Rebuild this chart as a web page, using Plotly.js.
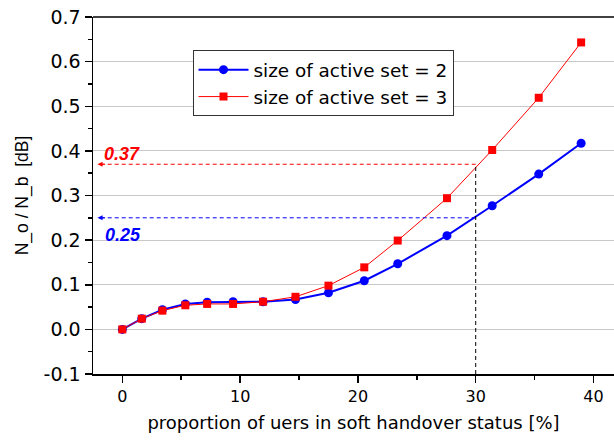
<!DOCTYPE html>
<html>
<head>
<meta charset="utf-8">
<script src="https://cdn.plot.ly/plotly-3.0.1.min.js"></script>
<style>html,body{margin:0;padding:0;background:#fff;}#chart{width:614px;height:441px;}</style>
</head>
<body>
<div id="chart"></div>
<script>
// Proportion of users in soft handover status [%]
const handoverPct = [0, 1.65, 3.4, 5.35, 7.2, 9.4, 11.95, 14.7, 17.5, 20.54, 23.38, 27.56, 31.4, 35.35, 38.95];
// N_o / N_b [dB], size of active set = 2
const activeSet2 = [0, 0.024, 0.044, 0.057, 0.061, 0.062, 0.062, 0.067, 0.082, 0.109, 0.147, 0.21, 0.277, 0.348, 0.417];
// N_o / N_b [dB], size of active set = 3
const activeSet3 = [0, 0.024, 0.042, 0.054, 0.057, 0.057, 0.062, 0.073, 0.098, 0.139, 0.199, 0.294, 0.402, 0.519, 0.643];
const seriesNames = ['size of active set = 2', 'size of active set = 3'];
// Read-out at 30 % handover
const readoutX = 30;
const readout2 = 0.25;
const readout3 = 0.37;
// Tick labels
const xTickVals = [0, 10, 20, 30, 40];
const yTickVals = [-0.1, 0.0, 0.1, 0.2, 0.3, 0.4, 0.5, 0.6, 0.7];
const yTickText = ['-0.1', '0.0', '0.1', '0.2', '0.3', '0.4', '0.5', '0.6', '0.7'];

const xMin = -2.49, xMax = 41.74, yMin = -0.1, yMax = 0.7;

const traces = [
  {x: handoverPct, y: activeSet2, name: seriesNames[0], type: 'scatter', mode: 'lines+markers',
   line: {color: '#0000ff', width: 2}, marker: {symbol: 'circle', size: 9, color: '#0000ff'}},
  {x: handoverPct, y: activeSet3, name: seriesNames[1], type: 'scatter', mode: 'lines+markers',
   line: {color: '#ff0000', width: 1}, marker: {symbol: 'square', size: 8, color: '#ff0000'}}
];

const arrowTip = -2.1;
const layout = {
  width: 614, height: 441,
  margin: {l: 93, r: 0, t: 17, b: 67},
  paper_bgcolor: '#ffffff', plot_bgcolor: '#ffffff',
  font: {family: 'DejaVu Sans, Arial, sans-serif', color: '#000'},
  showlegend: true,
  legend: {x: 0.191, y: 0.907, xanchor: 'left', yanchor: 'top', bgcolor: '#ffffff',
    bordercolor: '#333333', borderwidth: 1, font: {size: 18.4, color: '#000'}, itemwidth: 50,
    tracegroupgap: 0},
  xaxis: {range: [xMin, xMax], tickvals: xTickVals, ticks: 'outside', ticklen: 7, tickwidth: 1.5,
    tickcolor: '#000', showline: true, linecolor: '#000', linewidth: 1.5, showgrid: false, zeroline: false,
    tickfont: {size: 16}, minor: {dtick: 5, tick0: 0, ticks: 'outside', ticklen: 4, tickwidth: 1.5, tickcolor: '#000', showgrid: false},
    title: {text: 'proportion of uers in soft handover status [%]', font: {size: 18}, standoff: 11}},
  yaxis: {range: [yMin, yMax], tickvals: yTickVals, ticktext: yTickText, ticks: 'outside', ticklen: 7, tickwidth: 1.5,
    tickcolor: '#000', showline: true, linecolor: '#000', linewidth: 1.5, showgrid: true, gridcolor: '#c8c8c8', gridwidth: 1,
    zeroline: false, tickfont: {size: 19},
    minor: {dtick: 0.05, tick0: 0, ticks: 'outside', ticklen: 4, tickwidth: 1.5, tickcolor: '#000', showgrid: false},
    title: {text: 'N_o / N_b\u00a0 [dB]', font: {size: 17.5, family: 'Liberation Sans, Arial, sans-serif'}, standoff: 10}},
  shapes: [
    {type: 'line', xref: 'paper', yref: 'paper', x0: 0, x1: 1, y0: 1, y1: 1, line: {color: '#000', width: 1.5}},
    {type: 'line', xref: 'x', yref: 'y', x0: readoutX, x1: arrowTip, y0: readout3, y1: readout3, line: {color: '#ff0000', width: 1, dash: '4px,3px'}},
    {type: 'line', xref: 'x', yref: 'y', x0: readoutX, x1: arrowTip, y0: readout2, y1: readout2, line: {color: '#0000ff', width: 1, dash: '4px,3px'}},
    {type: 'line', xref: 'x', yref: 'y', x0: readoutX, x1: readoutX, y0: yMin, y1: readout3, line: {color: '#000', width: 1, dash: '4px,3px'}}
  ],
  annotations: [
    {x: arrowTip, y: readout3, xref: 'x', yref: 'y', ax: 9, ay: 0, text: '', showarrow: true, arrowhead: 2, arrowsize: 1, arrowwidth: 1, arrowcolor: '#ff0000'},
    {x: arrowTip, y: readout2, xref: 'x', yref: 'y', ax: 9, ay: 0, text: '', showarrow: true, arrowhead: 2, arrowsize: 1, arrowwidth: 1, arrowcolor: '#0000ff'},
    {x: -1.75, y: 0.394, xref: 'x', yref: 'y', xanchor: 'left', yanchor: 'middle', showarrow: false,
     text: '<b><i>' + readout3.toFixed(2) + '</i></b>', font: {family: 'Liberation Sans, Arial, sans-serif', size: 18, color: '#ff0000'}},
    {x: -1.66, y: 0.2105, xref: 'x', yref: 'y', xanchor: 'left', yanchor: 'middle', showarrow: false,
     text: '<b><i>' + readout2.toFixed(2) + '</i></b>', font: {family: 'Liberation Sans, Arial, sans-serif', size: 18, color: '#0000ff'}}
  ]
};

Plotly.newPlot('chart', traces, layout, {displayModeBar: false, staticPlot: true});
</script>
</body>
</html>
